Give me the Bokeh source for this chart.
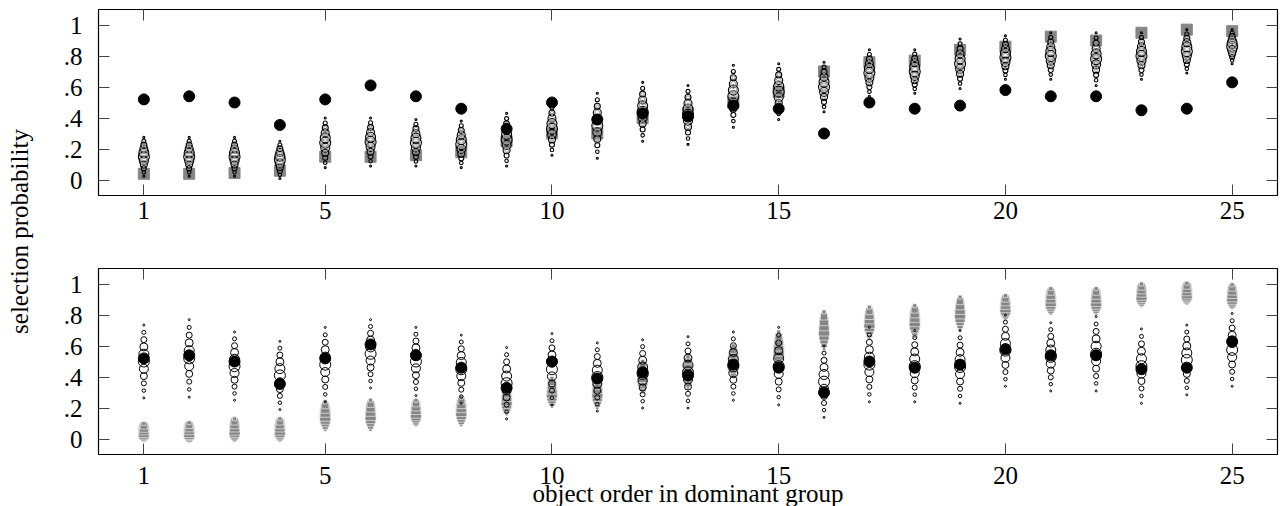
import math
from bokeh.plotting import figure
from bokeh.layouts import row, column
from bokeh.models import (ColumnDataSource, FixedTicker, CustomJSTickFormatter,
                          LinearAxis, Range1d, Label)
from bokeh.core.properties import value
from bokeh.embed import file_html
from bokeh.resources import INLINE

# ---------------- data ----------------
objects = list(range(1, 26))
observed = [0.52, 0.54, 0.50, 0.355, 0.52, 0.61, 0.54, 0.46, 0.33, 0.50,
            0.39, 0.43, 0.41, 0.48, 0.46, 0.30, 0.50, 0.46, 0.48, 0.58,
            0.54, 0.54, 0.45, 0.46, 0.63]
# grey model: centre and half-range of its predictive spread
gray_center = [0.045, 0.045, 0.06, 0.06, 0.15, 0.155, 0.17, 0.18, 0.25, 0.30,
               0.30, 0.40, 0.43, 0.50, 0.57, 0.70, 0.75, 0.76, 0.81, 0.85,
               0.89, 0.89, 0.93, 0.94, 0.92]
gray_half = [0.055, 0.06, 0.07, 0.07, 0.09, 0.095, 0.08, 0.09, 0.09, 0.09,
             0.10, 0.10, 0.10, 0.10, 0.12, 0.12, 0.10, 0.10, 0.105, 0.075,
             0.08, 0.08, 0.07, 0.065, 0.075]
gray_point = [0.04, 0.04, 0.045, 0.06, 0.15, 0.15, 0.16, 0.18, 0.25, 0.30,
              0.30, 0.40, 0.43, 0.50, 0.57, 0.70, 0.76, 0.77, 0.84, 0.86,
              0.925, 0.90, 0.95, 0.97, 0.96]
# open-circle model, top panel
top_center = [0.15, 0.15, 0.15, 0.13, 0.24, 0.245, 0.24, 0.23, 0.26, 0.33,
              0.35, 0.44, 0.42, 0.54, 0.57, 0.60, 0.69, 0.70, 0.75, 0.79,
              0.80, 0.78, 0.80, 0.83, 0.86]
top_half = [0.125, 0.125, 0.125, 0.12, 0.16, 0.155, 0.15, 0.15, 0.17, 0.17,
            0.21, 0.19, 0.19, 0.20, 0.18, 0.16, 0.15, 0.14, 0.16, 0.14,
            0.15, 0.17, 0.15, 0.14, 0.11]
# open-circle model, bottom panel
bot_center = [0.50, 0.52, 0.47, 0.41, 0.48, 0.55, 0.50, 0.45, 0.36, 0.45,
              0.40, 0.42, 0.43, 0.47, 0.47, 0.37, 0.48, 0.47, 0.465, 0.57,
              0.53, 0.55, 0.47, 0.51, 0.575]
bot_half = [0.235, 0.25, 0.22, 0.22, 0.24, 0.22, 0.22, 0.22, 0.23, 0.23,
            0.22, 0.22, 0.23, 0.22, 0.25, 0.23, 0.24, 0.23, 0.235, 0.23,
            0.22, 0.24, 0.24, 0.225, 0.235]

x_ticks = [1, 5, 10, 15, 20, 25]
x_tick_labels = ["1", "5", "10", "15", "20", "25"]
y_ticks = [0, 0.2, 0.4, 0.6, 0.8, 1.0]
y_tick_labels = ["0", ".2", ".4", ".6", ".8", "1"]
x_label = "object order in dominant group"
y_label = "selection probability"

# ---------------- style ----------------
FONT = "Liberation Serif, DejaVu Serif, serif"
FS = "25px"
GRAY = "#858585"
CIRCLE_PX = [2, 3.5, 5, 7, 9, 11, 10, 8, 6, 4, 2]
GRAY_PX = [3, 6, 8, 10, 11, 10, 9, 7, 4]
PW = 1230           # panel width
BL, BR = 48, 3      # left / right borders of panel frames


def stack(centers, halves, sizes):
    xs, ys, ss = [], [], []
    mid = (len(sizes) - 1) / 2
    for o, c, h in zip(objects, centers, halves):
        for k, s in enumerate(sizes):
            xs.append(o)
            ys.append(c + (k - mid) / mid * h)
            ss.append(s)
    return ColumnDataSource(dict(x=xs, y=ys, s=ss))


blank = CustomJSTickFormatter(code="return '';")
yfmt = CustomJSTickFormatter(args=dict(vals=y_ticks, labs=y_tick_labels), code="""
const i = vals.findIndex(v => Math.abs(v - tick) < 1e-9);
return i >= 0 ? labs[i] : '';
""")
xfmt = CustomJSTickFormatter(args=dict(vals=x_ticks, labs=x_tick_labels), code="""
const i = vals.findIndex(v => Math.abs(v - tick) < 1e-9);
return i >= 0 ? labs[i] : '';
""")


def style_axis(ax, labels=True):
    ax.axis_line_color = None
    ax.major_tick_in = 11
    ax.major_tick_out = 0
    ax.major_tick_line_color = "#444444"
    ax.major_tick_line_width = 1
    ax.minor_tick_line_color = None
    if labels:
        ax.major_label_text_font = FONT
        ax.major_label_text_font_size = FS
        ax.major_label_text_color = "black"
    else:
        ax.formatter = blank
        ax.major_label_text_font_size = "1px"
        ax.major_label_standoff = 0


def make_panel(height, btop, bbottom, xlabels):
    p = figure(width=PW, height=height, x_range=Range1d(0, 26),
               y_range=Range1d(-0.1, 1.1), output_backend="svg",
               toolbar_location=None, min_border_left=BL, min_border_right=BR,
               min_border_top=btop, min_border_bottom=bbottom)
    p.grid.visible = False
    p.outline_line_color = "black"
    p.outline_line_width = 1.2
    p.background_fill_color = "white"
    p.border_fill_color = "white"
    p.xaxis.ticker = FixedTicker(ticks=x_ticks)
    p.yaxis.ticker = FixedTicker(ticks=y_ticks)
    for ax in p.xaxis:
        style_axis(ax, labels=xlabels)
        if xlabels:
            ax.formatter = xfmt
            ax.major_label_standoff = 6
    for ax in p.yaxis:
        style_axis(ax)
        ax.formatter = yfmt
        ax.major_label_standoff = 16
    right = LinearAxis(ticker=FixedTicker(ticks=y_ticks))
    style_axis(right, labels=False)
    p.add_layout(right, "right")
    above = LinearAxis(ticker=FixedTicker(ticks=x_ticks))
    style_axis(above, labels=False)
    p.add_layout(above, "above")
    return p


# ---------------- top panel ----------------
p1 = make_panel(232, 9, 37, True)
p1.scatter(x=objects, y=gray_point, marker="square", size=11,
           fill_color=GRAY, line_color=GRAY)
src_top = stack(top_center, top_half, CIRCLE_PX)
p1.scatter("x", "y", size="s", source=src_top, marker="circle",
           fill_color=None, line_color="black", line_width=1.1)
keep = [i for i, s in enumerate(src_top.data["s"]) if s >= 6]
inner = ColumnDataSource(dict(
    x=[src_top.data["x"][i] for i in keep],
    y=[src_top.data["y"][i] for i in keep],
    s=[src_top.data["s"][i] - 3 for i in keep]))
p1.scatter("x", "y", size="s", source=inner, marker="circle",
           fill_color=None, line_color="#9a9a9a", line_width=1)
p1.scatter(x=objects, y=observed, marker="circle", size=11,
           fill_color="black", line_color="black")

# ---------------- bottom panel ----------------
p2 = make_panel(224, 36, 2, False)
p2.scatter("x", "y", size="s", source=stack(gray_center, gray_half, GRAY_PX),
           marker="square", fill_color=GRAY, line_color="white", line_width=0.6)
p2.scatter("x", "y", size="s", source=stack(bot_center, bot_half, CIRCLE_PX),
           marker="circle", fill_color=None, line_color="black", line_width=1)
p2.scatter(x=objects, y=observed, marker="circle", size=11,
           fill_color="black", line_color="black")

# ---------------- footer: bottom tick labels + x label ----------------
foot = figure(width=PW, height=50, x_range=p2.x_range, y_range=Range1d(0, 50),
              output_backend="svg", toolbar_location=None,
              min_border_left=BL, min_border_right=BR, min_border_top=0,
              min_border_bottom=0, x_axis_type=None, y_axis_type=None)
foot.grid.visible = False
foot.outline_line_color = None
foot.text(x=x_ticks, y=[31] * len(x_ticks), text=x_tick_labels,
          text_align="center", text_baseline="alphabetic",
          text_font=value(FONT), text_font_size=value(FS), text_color="black")
foot.add_layout(Label(x=13, y=13, text=x_label, text_align="center",
                      text_baseline="alphabetic", text_font=FONT,
                      text_font_size=FS, text_color="black"))

# ---------------- shared y label ----------------
lab = figure(width=50, height=506, x_range=Range1d(0, 50), y_range=Range1d(0, 506),
             output_backend="svg", toolbar_location=None, min_border=0,
             x_axis_type=None, y_axis_type=None)
lab.grid.visible = False
lab.outline_line_color = None
lab.add_layout(Label(x=19, y=275, text=y_label, angle=math.pi / 2,
                     text_align="center", text_baseline="middle",
                     text_font=FONT, text_font_size=FS, text_color="black"))

layout = row(lab, column(p1, p2, foot, spacing=0), spacing=0)
open("out.html", "w").write(file_html(layout, INLINE))
